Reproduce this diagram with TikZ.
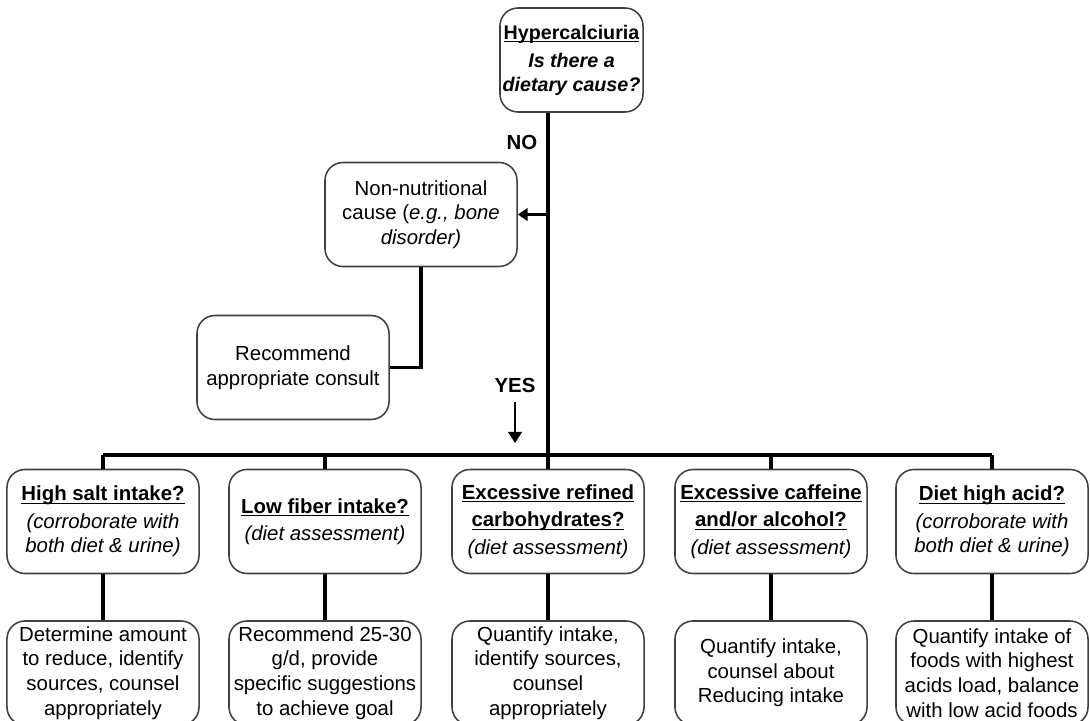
\documentclass[tikz,border=0pt]{standalone}
\usepackage{fontspec}
\setmainfont{Liberation Sans}
\usetikzlibrary{arrows.meta}
% underline just under the baseline
\newcommand{\ulin}[1]{\setbox0\hbox{#1}\rlap{\rule[-2.2pt]{\wd0}{0.9pt}}\box0}
\newcommand{\head}[1]{{\bfseries\ulin{#1}}}

\begin{document}
\begin{tikzpicture}[x=0.025cm, y=-0.025cm,
	box/.style={draw=black!75, line width=1.1pt, rounded corners=0.45cm, fill=white,
		align=center, inner sep=1pt, minimum width=4.8cm, minimum height=2.6cm,
		font=\fontsize{14.5}{17.5}\selectfont},
	line/.style={line width=2.8pt},
	label/.style={font=\fontsize{14.5}{17}\selectfont\bfseries, inner sep=0pt}]
	\clip (0,0) rectangle (1090,721);
	% question
	\node[box, minimum width=3.575cm, font=\fontsize{14}{17}\selectfont] (hyper) at (571.5,60)
		{\head{Hypercalciuria}\\[3pt]\textbf{\textit{Is there a}}\\\textbf{\textit{dietary cause?}}};
	\node[label] (no) at (522,142) {NO};
	\node[label] (yes) at (515,385) {YES};
	\coordinate (split) at (548,455);
	\coordinate (yestip) at (515,443);
	% no branch
	\node[box] (nonnut) at (421,214.5) {Non-nutritional\\cause (\textit{e.g., bone}\\\textit{disorder)}};
	\node[box] (consult) at (293,367.5) {Recommend\\appropriate consult};
	% yes branch
	\node[box] (mid1) at (103,521.5) {\head{High salt intake?}\\[2pt]\textit{(corroborate with}\\\textit{both diet \& urine)}};
	\node[box] (mid2) at (325,521.5) {\head{Low fiber intake?}\\[2pt]\textit{(diet assessment)}};
	\node[box] (mid3) at (548,521.5) {\head{Excessive refined}\\[2pt]\head{carbohydrates?}\\[2pt]\textit{(diet assessment)}};
	\node[box] (mid4) at (771,521.5) {\head{Excessive caffeine}\\[2pt]\head{and/or alcohol?}\\[2pt]\textit{(diet assessment)}};
	\node[box] (mid5) at (992,521.5) {\head{Diet high acid?}\\[2pt]\textit{(corroborate with}\\\textit{both diet \& urine)}};
	% actions
	\node[box] (act1) at (103,673) {Determine amount\\to reduce, identify\\sources, counsel\\appropriately};
	\node[box] (act2) at (325,673) {Recommend 25-30\\g/d, provide\\specific suggestions\\to achieve goal};
	\node[box] (act3) at (548,673) {Quantify intake,\\identify sources,\\counsel\\appropriately};
	\node[box] (act4) at (771,673) {Quantify intake,\\counsel about\\Reducing intake};
	\node[box] (act5) at (992,673) {Quantify intake of\\foods with highest\\acids load, balance\\with low acid foods};
	% trunk
	\draw[line] (hyper.south -| split) -- (split);
	\draw[line, -{Triangle[length=7pt,width=9pt]}] (nonnut.east -| split) -- (nonnut.east);
	\draw[line] (nonnut.south) |- (consult.east);
	\draw[line width=1.1pt, -{Triangle[length=8pt,width=10pt]}, shorten <=7pt] (yes.south) -- (yestip);
	\draw[line] (mid1.north |- split) -- (mid5.north |- split);
	\foreach \i in {1,...,5}{
		\draw[line] (mid\i.north |- split) -- (mid\i.north);
		\draw[line] (mid\i.south) -- (act\i.north);
	}
\end{tikzpicture}
\end{document}
